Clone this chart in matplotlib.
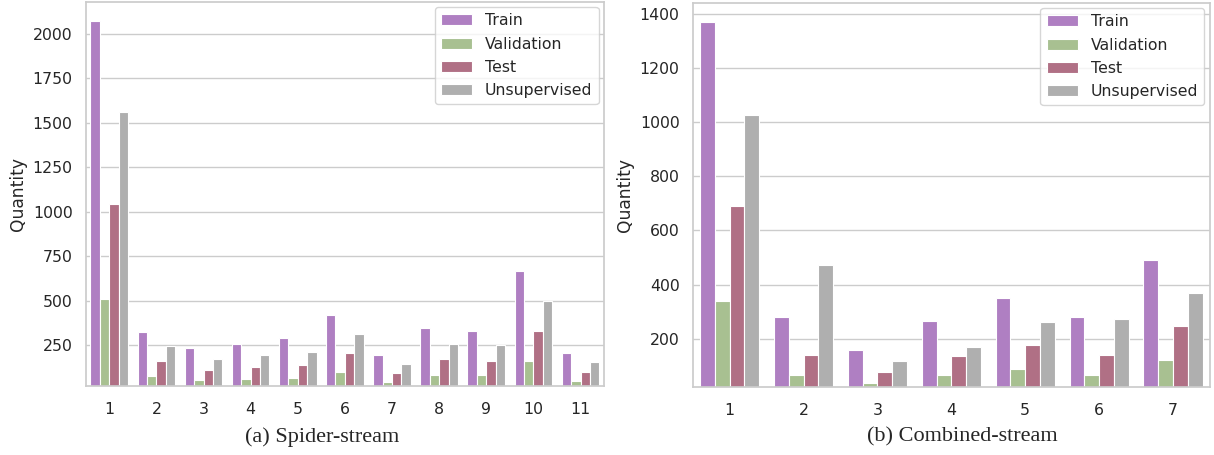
import numpy as np
import matplotlib.pyplot as plt
import seaborn as sns

sns.set_theme(style="whitegrid", font_scale=1.03)

splits = ["Train", "Validation", "Test", "Unsupervised"]
colors = ["#AF7FC2", "#A8C091", "#B07085", "#AFAFAF"]

# spider-stream split sizes per task
spider_tasks = [str(i) for i in range(1, 12)]
spider_train = [2074, 323, 233, 258, 291, 417, 194, 347, 331, 666, 205]
spider_val = [512, 78, 53, 61, 68, 98, 44, 83, 80, 162, 46]
spider_test = [1043, 160, 113, 128, 141, 207, 95, 173, 162, 331, 100]
spider_unsup = [1558, 243, 173, 192, 214, 312, 145, 259, 248, 499, 153]

# combined-stream split sizes per task
comb_tasks = [str(i) for i in range(1, 8)]
comb_train = [1372, 281, 156, 266, 350, 281, 490]
comb_val = [339, 67, 36, 64, 86, 67, 120]
comb_test = [689, 141, 77, 134, 175, 141, 245]
comb_unsup = [1028, 472, 117, 169, 263, 274, 368]


def grouped_bars(ax, tasks, series, ylim, yticks):
    x = np.arange(len(tasks))
    w = 0.2
    for i, (vals, name, c) in enumerate(zip(series, splits, colors)):
        ax.bar(x + (i - 1.5) * w, vals, width=w, color=c, label=name,
               edgecolor="white", linewidth=0.8)
    ax.set_xticks(x)
    ax.set_xticklabels(tasks)
    ax.set_xlim(-0.5, len(tasks) - 0.5)
    ax.set_ylim(*ylim)
    ax.set_yticks(yticks)
    ax.grid(axis="x", visible=False)
    ax.set_ylabel("Quantity")
    ax.tick_params(axis="x", pad=6)
    ax.legend(loc="upper right", labelspacing=0.52, borderaxespad=0.35)


fig = plt.figure(figsize=(12.14, 4.55), dpi=100)
ax1 = fig.add_axes([0.0706, 0.1523, 0.427, 0.8443])
ax2 = fig.add_axes([0.5706, 0.1501, 0.4261, 0.8443])

grouped_bars(ax1, spider_tasks,
             [spider_train, spider_val, spider_test, spider_unsup],
             (22, 2181), range(250, 2001, 250))
grouped_bars(ax2, comb_tasks,
             [comb_train, comb_val, comb_test, comb_unsup],
             (22, 1443), range(200, 1401, 200))

fig.text(0.265, 0.04, "(a) Spider-stream", ha="center", va="center",
         family="Liberation Serif", fontsize=16)
fig.text(0.793, 0.04, "(b) Combined-stream", ha="center", va="center",
         family="Liberation Serif", fontsize=16)

fig.savefig("out.png", dpi=100)
